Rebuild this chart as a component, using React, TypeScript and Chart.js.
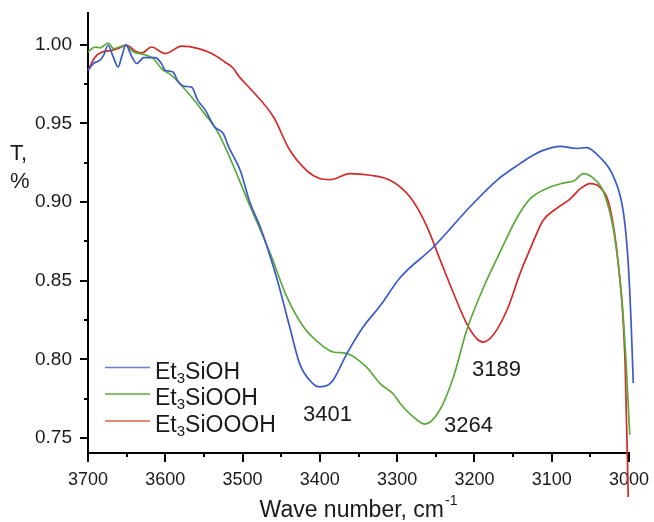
import React, { useEffect, useRef } from "react";
import { Chart, registerables } from "chart.js";

Chart.register(...registerables);

// ---- data ----
const seriesNames = ["Et₃SiOH", "Et₃SiOOH", "Et₃SiOOOH"];

const blueWave = [3700, 3693, 3685, 3680, 3674, 3668, 3661, 3656, 3651, 3644, 3637, 3628, 3613, 3605, 3600, 3590, 3584, 3575, 3566, 3558, 3549, 3536, 3525, 3518, 3503, 3490, 3477, 3456, 3439, 3426, 3409, 3401, 3390, 3383, 3365, 3344, 3322, 3296, 3253, 3206, 3171, 3141, 3128, 3111, 3089, 3068, 3055, 3038, 3020, 3007, 3001, 2997, 2994.5];
const blueT = [0.9837, 0.988, 0.990, 0.993, 0.9996, 0.993, 0.9858, 0.993, 1.000, 0.993, 0.988, 0.9917, 0.9917, 0.988, 0.9837, 0.9826, 0.977, 0.9735, 0.973, 0.9646, 0.959, 0.9477, 0.9435, 0.935, 0.920, 0.899, 0.884, 0.852, 0.8206, 0.797, 0.7846, 0.7825, 0.7835, 0.7867, 0.8037, 0.8206, 0.834, 0.852, 0.8714, 0.8968, 0.9138, 0.9244, 0.9286, 0.9328, 0.9354, 0.934, 0.9346, 0.9286, 0.916, 0.8926, 0.861, 0.82, 0.785];

const greenWave = [3700, 3691, 3684, 3674, 3667, 3652, 3641, 3628, 3615, 3605, 3592, 3579, 3566, 3549, 3531, 3490, 3464, 3443, 3421, 3400, 3383, 3365, 3340, 3322, 3305, 3296, 3279, 3264, 3245, 3227, 3210, 3188, 3167, 3145, 3128, 3102, 3085, 3071, 3059, 3046, 3033, 3020, 3009.5, 3004, 2999];
const greenT = [0.9953, 0.9985, 0.998, 1.001, 0.9975, 0.9996, 0.9953, 0.9938, 0.991, 0.9848, 0.9805, 0.974, 0.9667, 0.956, 0.9435, 0.897, 0.867, 0.84, 0.8206, 0.81, 0.8047, 0.8037, 0.7952, 0.7846, 0.778, 0.772, 0.7634, 0.7588, 0.7677, 0.789, 0.8185, 0.846, 0.868, 0.89, 0.902, 0.9095, 0.912, 0.9135, 0.918, 0.915, 0.9064, 0.882, 0.84, 0.80, 0.752];

const redWave = [3700, 3691, 3682, 3669, 3661, 3650, 3639, 3630, 3618, 3600, 3579, 3557, 3540, 3523, 3512, 3505, 3490, 3460, 3439, 3417, 3400, 3387, 3361, 3335, 3309, 3283, 3262, 3245, 3227, 3210, 3197, 3189, 3176, 3158, 3141, 3128, 3111, 3094, 3076, 3063, 3050, 3038, 3025, 3014, 3005, 3001];
const redT = [0.9837, 0.992, 0.9953, 0.9964, 0.9975, 0.9996, 0.996, 0.9947, 0.9985, 0.9943, 0.999, 0.9975, 0.9943, 0.989, 0.985, 0.98, 0.972, 0.954, 0.933, 0.92, 0.9149, 0.9142, 0.918, 0.917, 0.9138, 0.903, 0.885, 0.864, 0.842, 0.8227, 0.8132, 0.811, 0.8153, 0.8312, 0.8545, 0.87, 0.8884, 0.8958, 0.902, 0.9085, 0.9117, 0.9095, 0.897, 0.861, 0.797, 0.7126];

const peakLabels = ["3401", "3264", "3189"];
const peakWaves = [3401, 3264, 3189];
const peakT = [0.7825, 0.7588, 0.811];

const xTickValues = [3700, 3600, 3500, 3400, 3300, 3200, 3100, 3000];
const xMinorTicks = [3650, 3550, 3450, 3350, 3250, 3150, 3050];
const yTickValues = [0.75, 0.8, 0.85, 0.9, 0.95, 1.0];
const yMinorTicks = [0.775, 0.825, 0.875, 0.925, 0.975];

const xTitle = "Wave number, cm";
const xTitleSup = "-1";
const yTitleLines = ["T,", "%"];

// ---- styles ----
const FONT = 'Arial, "Liberation Sans", Helvetica, sans-serif';
const colors = ["#3b5bc4", "#5aaa3c", "#d42a2a"];
const legendColors = ["#6a7fd0", "#5aaa3c", "#e0603e"];
const TEXT = "#1a1a1a";

const toPoints = (w: number[], t: number[]) => w.map((x, i) => ({ x, y: t[i] }));

const decorPlugin = {
  id: "decor",
  afterDraw(chart: any) {
    const ctx = chart.ctx as CanvasRenderingContext2D;
    const xs = chart.scales.x;
    const ys = chart.scales.y;
    const area = chart.chartArea;
    ctx.save();
    // tick marks
    ctx.strokeStyle = "#000";
    ctx.lineWidth = 2;
    ctx.beginPath();
    yTickValues.forEach((v) => {
      const p = Math.round(ys.getPixelForValue(v));
      ctx.moveTo(area.left - 8, p);
      ctx.lineTo(area.left, p);
    });
    yMinorTicks.forEach((v) => {
      const p = Math.round(ys.getPixelForValue(v));
      ctx.moveTo(area.left - 4, p);
      ctx.lineTo(area.left, p);
    });
    xTickValues.forEach((v) => {
      const p = Math.round(xs.getPixelForValue(v));
      ctx.moveTo(p, area.bottom);
      ctx.lineTo(p, area.bottom + 9);
    });
    xMinorTicks.forEach((v) => {
      const p = Math.round(xs.getPixelForValue(v));
      ctx.moveTo(p, area.bottom);
      ctx.lineTo(p, area.bottom + 4);
    });
    ctx.stroke();

    ctx.fillStyle = TEXT;
    ctx.textBaseline = "alphabetic";
    ctx.textAlign = "left";

    // y title
    ctx.font = `22px ${FONT}`;
    ctx.fillText(yTitleLines[0], 10, 160);
    ctx.fillText(yTitleLines[1], 10, 188);

    // x title with superscript
    ctx.font = `23px ${FONT}`;
    const wMain = ctx.measureText(xTitle).width;
    ctx.font = `14px ${FONT}`;
    const wSup = ctx.measureText(xTitleSup).width;
    const cx = (area.left + area.right) / 2;
    const startX = cx - (wMain + wSup + 1) / 2;
    ctx.font = `23px ${FONT}`;
    ctx.fillText(xTitle, startX, 517);
    ctx.font = `14px ${FONT}`;
    ctx.fillText(xTitleSup, startX + wMain + 1, 505);

    // peak annotations
    const offs = [
      [-16, 34],
      [19, 8],
      [-11, 34],
    ];
    ctx.font = `22px ${FONT}`;
    peakLabels.forEach((lab, i) => {
      const px = xs.getPixelForValue(peakWaves[i]);
      const py = ys.getPixelForValue(peakT[i]);
      ctx.fillText(lab, px + offs[i][0], py + offs[i][1]);
    });

    // legend
    const rows = [367.5, 394, 421];
    seriesNames.forEach((name, i) => {
      const y = rows[i];
      ctx.strokeStyle = legendColors[i];
      ctx.lineWidth = 1.5;
      ctx.beginPath();
      ctx.moveTo(105, y);
      ctx.lineTo(150, y);
      ctx.stroke();
      const [pre, post] = name.split("₃");
      let x = 155;
      const base = y + 11;
      ctx.font = `23px ${FONT}`;
      ctx.fillText(pre, x, base);
      x += ctx.measureText(pre).width;
      ctx.font = `15px ${FONT}`;
      ctx.fillText("3", x, base + 4);
      x += ctx.measureText("3").width;
      ctx.font = `23px ${FONT}`;
      ctx.fillText(post, x, base);
    });
    ctx.restore();
  },
};

export default function App() {
  const ref = useRef<HTMLCanvasElement | null>(null);
  useEffect(() => {
    if (!ref.current) return;
    const clip = { left: 5, top: 5, right: 10, bottom: 45 };
    const mk = (w: number[], t: number[], i: number) => ({
      label: seriesNames[i],
      data: toPoints(w, t),
      borderColor: colors[i],
      backgroundColor: colors[i],
      borderWidth: 1.7,
      pointRadius: 0,
      fill: false,
      cubicInterpolationMode: "monotone" as const,
      clip,
    });
    const hiddenGrid = (len: number) => ({
      display: true,
      drawOnChartArea: false,
      drawTicks: true,
      tickLength: len,
      color: "rgba(0,0,0,0)",
    });
    const chart = new Chart(ref.current, {
      type: "line",
      data: {
        datasets: [mk(blueWave, blueT, 0), mk(greenWave, greenT, 1), mk(redWave, redT, 2)],
      },
      options: {
        animation: false,
        responsive: false,
        devicePixelRatio: 1,
        events: [],
        layout: { padding: { top: 13, right: 25, left: 0, bottom: 0 } },
        plugins: { legend: { display: false }, tooltip: { enabled: false } },
        scales: {
          x: {
            type: "linear",
            reverse: true,
            min: 3000,
            max: 3700,
            grid: hiddenGrid(16),
            border: { display: true, color: "#000", width: 2 },
            afterBuildTicks: (s: any) => {
              s.ticks = xTickValues.map((v) => ({ value: v }));
            },
            afterFit: (s: any) => {
              s.height = 69;
            },
            ticks: {
              color: TEXT,
              font: { family: FONT, size: 18 },
              padding: 0,
              maxRotation: 0,
              autoSkip: false,
              callback: (v: any) => String(v),
            },
          },
          y: {
            type: "linear",
            min: 0.7405,
            max: 1.0201,
            grid: hiddenGrid(16),
            border: { display: true, color: "#000", width: 2 },
            afterBuildTicks: (s: any) => {
              s.ticks = yTickValues.map((v) => ({ value: v }));
            },
            afterFit: (s: any) => {
              s.width = 88;
            },
            ticks: {
              color: TEXT,
              font: { family: FONT, size: 19 },
              padding: 0,
              autoSkip: false,
              callback: (v: any) => Number(v).toFixed(2),
            },
          },
        },
      },
      plugins: [decorPlugin],
    });
    return () => chart.destroy();
  }, []);
  return (
    <div style={{ position: "fixed", left: 0, top: 0, width: 654, height: 522, background: "#fff" }}>
      <canvas ref={ref} width={654} height={522} style={{ width: 654, height: 522, display: "block" }} />
    </div>
  );
}
